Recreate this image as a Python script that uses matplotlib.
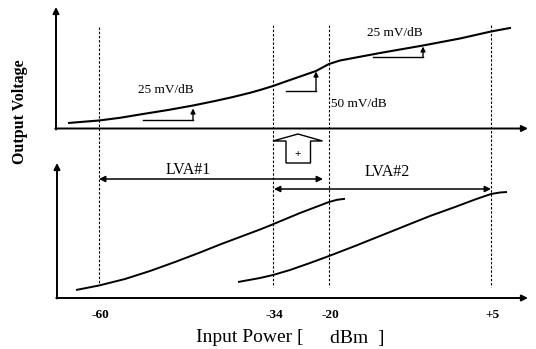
import matplotlib
matplotlib.use('Agg')
import matplotlib.pyplot as plt
from matplotlib.patches import Polygon

plt.rcParams['font.family'] = ['Liberation Serif', 'DejaVu Serif']

# input power marks and where they sit on the (non-linear) sketch axis
dbm_labels = ['-60', '-34', '-20', '+5']
dbm_pos = [99, 273, 329, 491]

# combined output (top panel), sketch units, y grows downward
top_x = [68, 99, 120, 143, 168, 193, 215, 233, 250, 260, 273, 290, 316, 329, 340,
         380, 423, 460, 491, 511]
top_y = [123, 120.5, 117.8, 114, 110, 105.5, 101, 97, 92.8, 90, 86, 80, 71, 64, 60.5,
         53, 45.5, 38.5, 31.5, 27.8]

# LVA#1 and LVA#2 responses (bottom panel)
lva1_x = [76, 99, 125, 150, 175, 200, 220, 240, 260, 270, 300, 329, 337, 345]
lva1_y = [290, 285.5, 279, 271, 262, 252.5, 244.5, 237, 229.5, 225.5, 213, 202, 199.8, 198.8]
lva2_x = [238, 260, 273, 290, 310, 329, 355, 380, 405, 430, 455, 475, 491, 500, 507]
lva2_y = [282, 278, 275, 270, 263, 256, 246, 236, 226, 216, 207, 199.5, 194, 192.5, 192]

# slope markers: (x start, x end, y base, y tip, label, label x, label y)
slopes = [(143, 193, 120, 108.5, '25 mV/dB', 166, 90),
          (286, 316, 91, 71.5, '50 mV/dB', 359, 104),
          (373, 423, 57, 46.5, '25 mV/dB', 395, 33)]

fig = plt.figure(figsize=(5.36, 3.49), dpi=100)
ax = fig.add_axes([0, 0, 1, 1])
ax.set_xlim(0, 536)
ax.set_ylim(349, 0)
ax.axis('off')

arr = dict(arrowstyle='-|>', lw=1.4, color='k', mutation_scale=9,
           shrinkA=0, shrinkB=0)

# axes of both panels
ax.annotate('', xy=(56, 7), xytext=(56, 129.5), arrowprops=arr)
ax.annotate('', xy=(528, 128.5), xytext=(55.3, 128.5), arrowprops=arr)
ax.annotate('', xy=(57, 163), xytext=(57, 298.5), arrowprops=arr)
ax.annotate('', xy=(528, 298), xytext=(56.3, 298), arrowprops=arr)

# dashed guides
ax.vlines(dbm_pos, [27, 25, 25, 25], [284, 287, 287, 287], colors='k',
          linewidth=0.8, linestyles=(0, (2.2, 1.6)))

# curves
ax.plot(top_x, top_y, color='k', lw=1.5, solid_capstyle='butt', solid_joinstyle='round')
ax.plot(lva1_x, lva1_y, color='k', lw=1.4, solid_capstyle='butt', solid_joinstyle='round')
ax.plot(lva2_x, lva2_y, color='k', lw=1.4, solid_capstyle='butt', solid_joinstyle='round')

# slope markers
small = dict(arrowstyle='-|>', lw=1.0, color='k', mutation_scale=7,
             shrinkA=0, shrinkB=0)
for x0, x1, yb, yt, lab, lx, ly in slopes:
    ax.plot([x0, x1], [yb, yb], color='k', lw=1.0)
    ax.annotate('', xy=(x1, yt), xytext=(x1, yb), arrowprops=small)
    ax.text(lx, ly, lab, fontsize=9.5, ha='center', va='center')

# hollow "+" arrow between panels
ax.add_patch(Polygon([(286, 163), (286, 141), (273, 141), (298, 134), (322.5, 141),
                      (310.5, 141), (310.5, 163)], closed=True, fill=False,
                     edgecolor='k', lw=1.0))
ax.text(298, 155, '+', fontsize=8, ha='center', va='center', fontweight='bold')

# LVA ranges
rng = dict(arrowstyle='<|-|>', lw=1.1, color='k', mutation_scale=9,
           shrinkA=0, shrinkB=0)
ax.annotate('', xy=(323, 179), xytext=(99, 179), arrowprops=rng)
ax.annotate('', xy=(491, 189), xytext=(274, 189), arrowprops=rng)
ax.text(188, 170, 'LVA#1', fontsize=11.5, ha='center', va='center')
ax.text(387, 172, 'LVA#2', fontsize=11.5, ha='center', va='center')

# tick labels and axis titles
for lab, x in zip(dbm_labels, dbm_pos):
    ax.text(x + 1, 315, lab, fontsize=9.5, ha='center', va='center', fontweight='bold')
ax.text(196, 338, 'Input Power [', fontsize=14, ha='left', va='center')
ax.text(385, 338, 'dBm  ]', fontsize=14, ha='right', va='center')
ax.text(20, 112, 'Output Voltage', fontsize=11.5, rotation=90, ha='center',
        va='center', fontweight='bold')

fig.savefig('out.png', dpi=100)
